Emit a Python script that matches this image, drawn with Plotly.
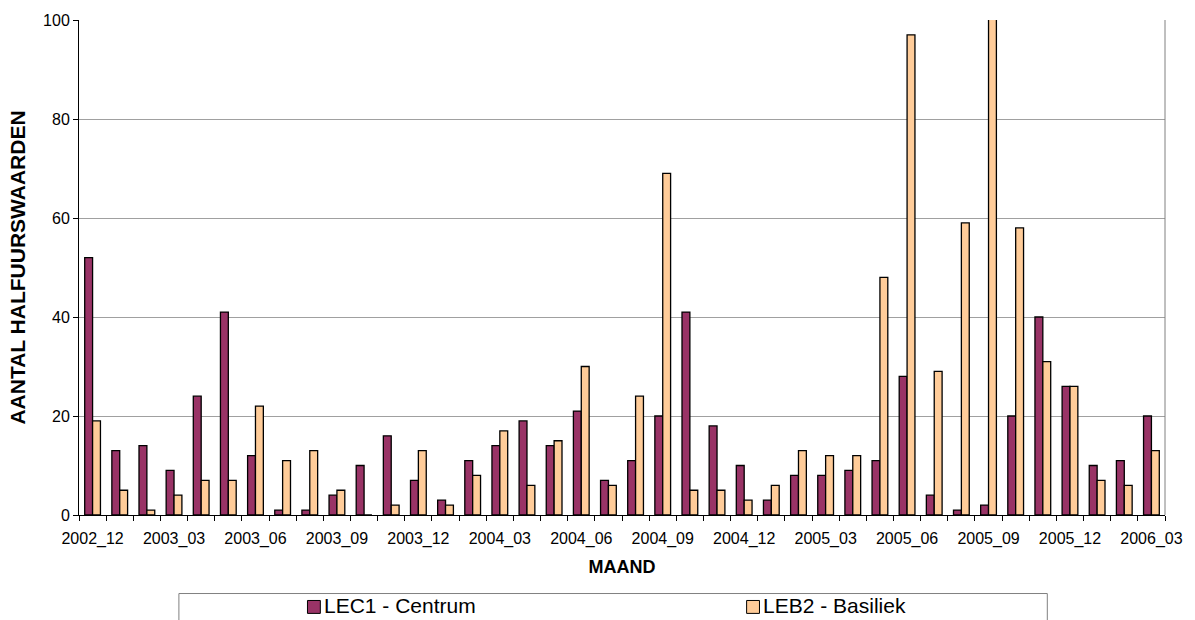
import plotly.graph_objects as go

# Months from 2002_12 to 2006_03
months = ["2002_12"] + [f"{y}_{m:02d}" for y in (2003, 2004, 2005) for m in range(1, 13)] + \
         ["2006_01", "2006_02", "2006_03"]

lec1_centrum = [52, 13, 14, 9, 24, 41, 12, 1, 1, 4, 10, 16, 7,
                3, 11, 14, 19, 14, 21, 7, 11, 20, 41, 18, 10, 3, 8,
                8, 9, 11, 28, 4, 1, 2, 20, 40, 26, 10, 11, 20]
leb2_basiliek = [19, 5, 1, 4, 7, 7, 22, 11, 13, 5, 0, 2, 13,
                 2, 8, 17, 6, 15, 30, 6, 24, 69, 5, 5, 3, 6, 13,
                 12, 12, 48, 97, 29, 59, 101, 58, 31, 26, 7, 6, 13]

series_names = ["LEC1 - Centrum", "LEB2 - Basiliek"]
series_colors = ["#993366", "#FFCC99"]

tick_text = [m if i % 3 == 0 else "" for i, m in enumerate(months)]

FONT = "Arial, Liberation Sans, sans-serif"

# pixel geometry of the plotting area
W, H = 1195, 620
L, R, T, B = 79, 18, 17, 105
PW, PH = W - L - R, H - T - B


def px_x(px):
    return (px - L) / PW


def px_y(py):
    return (H - B - py) / PH


fig = go.Figure()
for name, values, color in zip(series_names, [lec1_centrum, leb2_basiliek], series_colors):
    fig.add_trace(go.Bar(
        x=months, y=values, name=name, showlegend=False,
        marker=dict(color=color, line=dict(color="#000000", width=1.3)),
    ))

# legend drawn beneath the chart: framed box with a swatch and label per series
shapes = [
    # right-hand frame of the plotting area
    dict(type="line", xref="paper", yref="paper", x0=1, x1=1, y0=0, y1=1,
         line=dict(color="#808080", width=1)),
    # legend frame
    dict(type="rect", xref="paper", yref="paper",
         x0=px_x(180), x1=px_x(1058), y0=px_y(594), y1=px_y(640),
         line=dict(color="#808080", width=1), fillcolor="rgba(0,0,0,0)"),
]
annotations = []
for swatch_x, name, color in zip([310, 754], series_names, series_colors):
    shapes.append(dict(
        type="rect", xref="paper", yref="paper",
        x0=px_x(swatch_x), x1=px_x(swatch_x + 13), y0=px_y(614), y1=px_y(601),
        line=dict(color="#000000", width=1), fillcolor=color,
    ))
    annotations.append(dict(
        text=name, xref="paper", yref="paper",
        x=px_x(swatch_x + 16), y=px_y(619), xanchor="left", yanchor="bottom",
        borderpad=0, showarrow=False,
        font=dict(family=FONT, size=21, color="#000000"),
    ))

fig.update_layout(
    width=W, height=H,
    margin=dict(l=L, r=R, t=T, b=B),
    paper_bgcolor="white", plot_bgcolor="white",
    barmode="group", bargap=0.42, bargroupgap=0,
    font=dict(family=FONT, size=16, color="#000000"),
    showlegend=False,
    xaxis=dict(
        type="category",
        tickmode="array", tickvals=months, ticktext=tick_text,
        tickson="boundaries", ticks="outside", ticklen=5, tickcolor="#000000",
        showline=True, linecolor="#000000", linewidth=1,
        showgrid=False, tickangle=0, ticklabelstandoff=9,
        tickfont=dict(family=FONT, size=16),
        title=dict(text="<b>MAAND</b>", font=dict(family=FONT, size=18), standoff=13),
    ),
    yaxis=dict(
        range=[0, 100], tickvals=[0, 20, 40, 60, 80, 100],
        ticks="outside", ticklen=5, tickcolor="#000000",
        showline=True, linecolor="#000000", linewidth=1,
        showgrid=True, gridcolor="#a0a0a0", gridwidth=1,
        zeroline=False,
        tickfont=dict(family=FONT, size=16),
        title=dict(text="<b>AANTAL HALFUURSWAARDEN</b>", font=dict(family=FONT, size=21), standoff=11),
    ),
    shapes=shapes,
    annotations=annotations,
)

fig.write_html("out.html")
